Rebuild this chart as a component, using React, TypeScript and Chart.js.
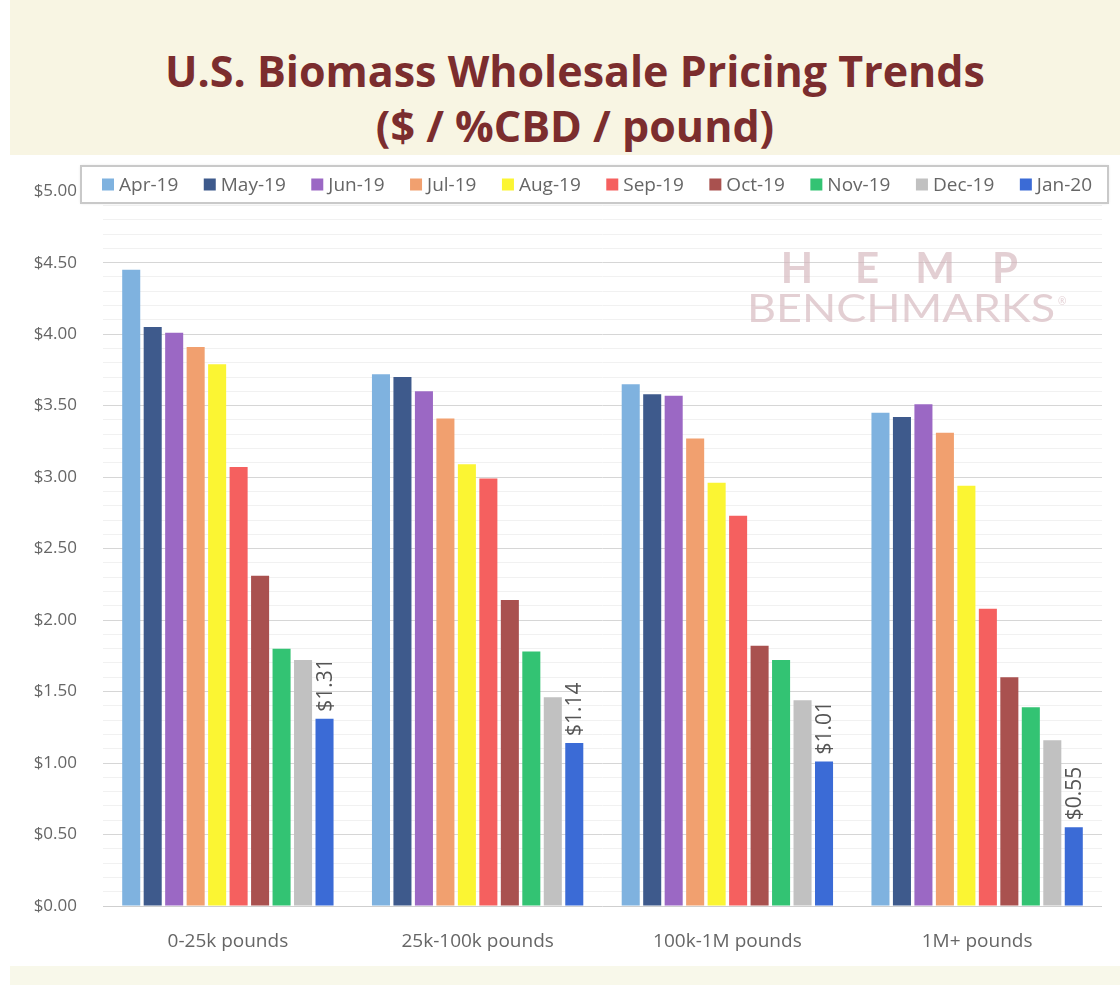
import React, { useEffect, useRef } from "react";
import { Chart, registerables } from "chart.js";

Chart.register(...registerables);

// ---------- data ----------
const categories = ["0-25k pounds", "25k-100k pounds", "100k-1M pounds", "1M+ pounds"];
const seriesLabels = ["Apr-19", "May-19", "Jun-19", "Jul-19", "Aug-19", "Sep-19", "Oct-19", "Nov-19", "Dec-19", "Jan-20"];
const seriesColors = ["#7fb2df", "#3e5a8c", "#9b68c4", "#f1a06f", "#fbf533", "#f5605f", "#a9514f", "#33c373", "#c1c1c1", "#3b6bd6"];

const apr19 = [4.45, 3.72, 3.65, 3.45];
const may19 = [4.05, 3.70, 3.58, 3.42];
const jun19 = [4.01, 3.60, 3.57, 3.51];
const jul19 = [3.91, 3.41, 3.27, 3.31];
const aug19 = [3.79, 3.09, 2.96, 2.94];
const sep19 = [3.07, 2.99, 2.73, 2.08];
const oct19 = [2.31, 2.14, 1.82, 1.60];
const nov19 = [1.80, 1.78, 1.72, 1.39];
const dec19 = [1.72, 1.46, 1.44, 1.16];
const jan20 = [1.31, 1.14, 1.01, 0.55];

const seriesValues = [apr19, may19, jun19, jul19, aug19, sep19, oct19, nov19, dec19, jan20];

const yMin = 0;
const yMax = 5;
const yMajorStep = 0.5;
const yMinorStep = 0.1;
const labeledSeriesIndex = 9;

const FONT = "'Open Sans', 'Noto Sans', sans-serif";

const isMajor = (v: number) => Math.abs(v / yMajorStep - Math.round(v / yMajorStep)) < 1e-6;

// ---------- plugins ----------
const watermarkPlugin = {
  id: "watermark",
  beforeDatasetsDraw(chart: any) {
    const ctx = chart.ctx as CanvasRenderingContext2D;
    ctx.save();
    ctx.fillStyle = "rgba(210, 178, 184, 0.62)";
    ctx.textBaseline = "alphabetic";
    ctx.textAlign = "center";
    ctx.font = `bold 42px Lato, ${FONT}`;
    const letters = ["H", "E", "M", "P"];
    const centers = [797, 867, 935, 1005];
    letters.forEach((l, i) => ctx.fillText(l, centers[i], 128));
    ctx.font = `38px Lato, ${FONT}`;
    const word = "BENCHMARKS";
    const w = ctx.measureText(word).width;
    const target = 308;
    ctx.textAlign = "left";
    ctx.translate(747, 167);
    ctx.scale(target / w, 1);
    ctx.fillText(word, 0, 0);
    ctx.restore();
    ctx.save();
    ctx.fillStyle = "rgba(210, 178, 184, 0.62)";
    ctx.font = `10px ${FONT}`;
    ctx.fillText("®", 1058, 150);
    ctx.restore();
  },
};

const valueLabelPlugin = {
  id: "valueLabels",
  afterDatasetsDraw(chart: any) {
    const ctx = chart.ctx as CanvasRenderingContext2D;
    const meta = chart.getDatasetMeta(labeledSeriesIndex);
    const data = chart.data.datasets[labeledSeriesIndex].data as number[];
    ctx.save();
    ctx.fillStyle = "#555555";
    ctx.font = `21px ${FONT}`;
    ctx.textAlign = "left";
    ctx.textBaseline = "middle";
    meta.data.forEach((bar: any, i: number) => {
      ctx.save();
      ctx.translate(bar.x, bar.y - 7);
      ctx.rotate(-Math.PI / 2);
      ctx.fillText("$" + data[i].toFixed(2), 0, 1);
      ctx.restore();
    });
    ctx.restore();
  },
};

const legendPlugin = {
  id: "boxLegend",
  afterDraw(chart: any) {
    const ctx = chart.ctx as CanvasRenderingContext2D;
    const boxL = 81, boxT = 11, boxR = 1108, boxB = 48;
    ctx.save();
    ctx.shadowColor = "rgba(0,0,0,0.18)";
    ctx.shadowBlur = 3;
    ctx.fillStyle = "#ffffff";
    ctx.fillRect(boxL, boxT, boxR - boxL, boxB - boxT);
    ctx.shadowColor = "transparent";
    ctx.shadowBlur = 0;
    ctx.strokeStyle = "#c9c9c9";
    ctx.lineWidth = 2;
    ctx.strokeRect(boxL, boxT, boxR - boxL, boxB - boxT);

    ctx.font = `19px ${FONT}`;
    ctx.textAlign = "left";
    ctx.textBaseline = "middle";
    const ds = chart.data.datasets;
    const widths = ds.map((d: any) => ctx.measureText(d.label).width);
    const sq = 12, gapT = 5;
    const contentL = 102, contentR = 1092;
    const total = widths.reduce((a: number, w: number) => a + sq + gapT + w, 0);
    const gap = (contentR - contentL - total) / (ds.length - 1);
    const cy = (boxT + boxB) / 2;
    let x = contentL;
    ds.forEach((d: any, i: number) => {
      ctx.fillStyle = d.backgroundColor;
      ctx.fillRect(x, cy - 6, sq, sq);
      ctx.fillStyle = "#666666";
      ctx.fillText(d.label, x + sq + gapT, cy + 1);
      x += sq + gapT + widths[i] + gap;
    });
    ctx.restore();
  },
};

// ---------- component ----------
function BiomassChart() {
  const canvasRef = useRef<HTMLCanvasElement | null>(null);

  useEffect(() => {
    if (!canvasRef.current) return;
    const chart = new Chart(canvasRef.current, {
      type: "bar",
      data: {
        labels: categories,
        datasets: seriesLabels.map((label, i) => ({
          label,
          data: seriesValues[i],
          backgroundColor: seriesColors[i],
          borderWidth: 0,
          categoryPercentage: 0.86,
          barPercentage: 0.84,
        })),
      },
      options: {
        animation: false,
        responsive: false,
        maintainAspectRatio: false,
        layout: { padding: { top: 29, right: 18, left: 0, bottom: 0 } },
        plugins: {
          legend: { display: false },
          title: { display: false },
          tooltip: { enabled: false },
        },
        scales: {
          x: {
            grid: { display: false, drawTicks: false },
            border: { display: false },
            ticks: {
              color: "#666666",
              font: { family: FONT, size: 19 },
              padding: 24,
              maxRotation: 0,
            },
            afterFit(scale: any) {
              scale.height = 60;
            },
          },
          y: {
            min: yMin,
            max: yMax,
            border: { display: false },
            grid: {
              drawTicks: false,
              color: (c: any) => {
                const v = c.tick ? c.tick.value : 0;
                if (Math.abs(v) < 1e-6) return "#cfcfcf";
                return isMajor(v) ? "#d6d6d6" : "#f1f1f1";
              },
              lineWidth: 1,
            },
            ticks: {
              stepSize: yMinorStep,
              maxTicksLimit: 200,
              autoSkip: false,
              padding: 26,
              color: "#666666",
              font: { family: FONT, size: 17 },
              callback: (v: any) => (isMajor(Number(v)) ? "$" + Number(v).toFixed(2) : ""),
            },
            afterFit(scale: any) {
              scale.width = 103;
            },
          },
        },
      },
      plugins: [watermarkPlugin, valueLabelPlugin, legendPlugin],
    });
    return () => chart.destroy();
  }, []);

  return (
    <canvas
      ref={canvasRef}
      width={1120}
      height={811}
      style={{ position: "absolute", left: 0, top: 155, width: 1120, height: 811 }}
    />
  );
}

export default function App() {
  return (
    <div
      style={{
        position: "absolute",
        left: 0,
        top: 0,
        width: 1120,
        height: 985,
        background: "#ffffff",
        overflow: "hidden",
        fontFamily: FONT,
      }}
    >
      <div
        style={{
          position: "absolute",
          left: 10,
          top: 0,
          width: 1110,
          height: 155,
          background: "#f8f5e3",
        }}
      />
      <div
        style={{
          position: "absolute",
          left: 30,
          top: 43,
          width: 1090,
          textAlign: "center",
          color: "#7b2d2e",
          fontWeight: 700,
          fontSize: 43,
          lineHeight: "55px",
          fontFamily: FONT,
        }}
      >
        <div>U.S. Biomass Wholesale Pricing Trends</div>
        <div>($ / %CBD / pound)</div>
      </div>
      <BiomassChart />
      <div
        style={{
          position: "absolute",
          left: 10,
          top: 966,
          width: 1110,
          height: 19,
          background: "#f8f8ea",
        }}
      />
    </div>
  );
}
